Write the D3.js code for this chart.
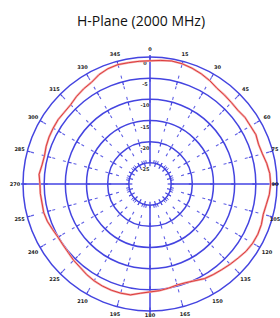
<!DOCTYPE html>
<html>
<head>
<meta charset="utf-8">
<script src="https://cdn.jsdelivr.net/npm/d3@7"></script>
<style>
  body { margin: 0; background: #fff; }
  svg { display: block; }
</style>
</head>
<body>
<script>
const width = 280;
const height = 318;

// pattern in dB, one value every 5 degrees (clockwise from top)
const angles = d3.range(0, 360, 5);
const gains = [
  -0.9, -0.7, -0.5, -0.6, -0.9, -1.3, -1.8, -2.4, -2.6, -2.8, -2.9, -2.6,
  -2.6, -2.4, -2.7, -2.5, -2.0, -1.6, -1.5, -1.7, -2.1, -2.3, -2.0, -1.9,
  -2.0, -2.3, -2.8, -3.2, -3.6, -3.9, -4.2, -4.8, -5.2, -5.3, -5.0, -4.7,
  -4.5, -4.1, -3.4, -3.3, -3.3, -3.4, -3.6, -3.9, -4.3, -4.5, -4.8, -4.9,
  -4.9, -4.6, -4.2, -4.0, -4.1, -4.0, -4.0, -3.7, -4.1, -4.2, -3.9, -3.7,
  -3.6, -3.5, -3.6, -3.5, -3.0, -2.6, -2.3, -1.5, -1.0, -0.8, -0.9, -0.9
];
const rings = [0, -5, -10, -15, -20, -25];
const ringLabels = ["0", "-5", "-10", "-15", "-20", "-25"];
const angleTicks = d3.range(0, 360, 15);

const cx = 150, cy = 184;
const r = d3.scaleLinear().domain([-30, 0]).range([0, 127]);
const rad = a => (a - 90) * Math.PI / 180;
const blue = "#4444e0";

const svg = d3.select("body").append("svg")
  .attr("width", width)
  .attr("height", height);

svg.append("text")
  .attr("x", 141)
  .attr("y", 26)
  .attr("text-anchor", "middle")
  .attr("font-family", "Open Sans, sans-serif")
  .attr("font-size", 14)
  .attr("fill", "#111")
  .text("H-Plane (2000 MHz)");

const g = svg.append("g").attr("transform", `translate(${cx},${cy})`);

// dashed spokes
g.append("g")
  .selectAll("line")
  .data(angleTicks.filter(a => a % 90 !== 0))
  .join("line")
  .attr("x1", a => r(-25) * Math.cos(rad(a)))
  .attr("y1", a => r(-25) * Math.sin(rad(a)))
  .attr("x2", a => r(0) * Math.cos(rad(a)))
  .attr("y2", a => r(0) * Math.sin(rad(a)))
  .attr("stroke", blue)
  .attr("stroke-opacity", 0.85)
  .attr("stroke-width", 1.1)
  .attr("stroke-dasharray", "3,8");

// main axes
g.append("g")
  .selectAll("line")
  .data([0, 90, 180, 270])
  .join("line")
  .attr("x1", a => r(-25) * Math.cos(rad(a)))
  .attr("y1", a => r(-25) * Math.sin(rad(a)))
  .attr("x2", a => (r(0) + 2) * Math.cos(rad(a)))
  .attr("y2", a => (r(0) + 2) * Math.sin(rad(a)))
  .attr("stroke", "#7272ea")
  .attr("stroke-width", 2);

// rings
g.append("g")
  .selectAll("circle")
  .data(rings)
  .join("circle")
  .attr("r", d => r(d))
  .attr("fill", "none")
  .attr("stroke", blue)
  .attr("stroke-width", 1.5);

// small ticks on each ring
const ringTicks = [];
rings.forEach(v => angleTicks.forEach(a => ringTicks.push({ v, a })));
g.append("g")
  .selectAll("line")
  .data(ringTicks)
  .join("line")
  .attr("x1", d => (r(d.v) - 3.5) * Math.cos(rad(d.a)))
  .attr("y1", d => (r(d.v) - 3.5) * Math.sin(rad(d.a)))
  .attr("x2", d => r(d.v) * Math.cos(rad(d.a)))
  .attr("y2", d => r(d.v) * Math.sin(rad(d.a)))
  .attr("stroke", blue)
  .attr("stroke-width", 1.2);

// serrated inner circle
g.append("g")
  .selectAll("line")
  .data(d3.range(0, 360, 10))
  .join("line")
  .attr("x1", a => r(-25) * Math.cos(rad(a)))
  .attr("y1", a => r(-25) * Math.sin(rad(a)))
  .attr("x2", a => (r(-25) + 3) * Math.cos(rad(a)))
  .attr("y2", a => (r(-25) + 3) * Math.sin(rad(a)))
  .attr("stroke", blue)
  .attr("stroke-width", 1);

// ring labels
g.append("g")
  .selectAll("text")
  .data(rings)
  .join("text")
  .attr("x", -5)
  .attr("y", (d) => -r(d) + 8)
  .attr("text-anchor", "middle")
  .attr("font-family", "DejaVu Sans, sans-serif")
  .attr("font-size", 5)
  .attr("font-weight", "bold")
  .attr("fill", "#333")
  .text((d, i) => ringLabels[i]);

// angle labels (kept inside the frame at the right and bottom edges)
g.append("g")
  .selectAll("text")
  .data(angleTicks)
  .join("text")
  .attr("x", a => Math.min(135 * Math.cos(rad(a)), width - cx - 5))
  .attr("y", a => Math.min(135 * Math.sin(rad(a)) + 2, height - cy - 1))
  .attr("text-anchor", "middle")
  .attr("font-family", "DejaVu Sans, sans-serif")
  .attr("font-size", 5)
  .attr("font-weight", "bold")
  .attr("fill", "#222")
  .text(a => a);

// pattern trace
const line = d3.lineRadial()
  .angle((d, i) => angles[i] * Math.PI / 180)
  .radius(d => r(d))
  .curve(d3.curveLinearClosed);

g.append("path")
  .datum(gains)
  .attr("d", line)
  .attr("fill", "none")
  .attr("stroke", "#f4a8a8")
  .attr("stroke-width", 2.2);

g.append("path")
  .datum(gains)
  .attr("d", line)
  .attr("fill", "none")
  .attr("stroke", "#d83030")
  .attr("stroke-width", 0.9);
</script>
</body>
</html>
